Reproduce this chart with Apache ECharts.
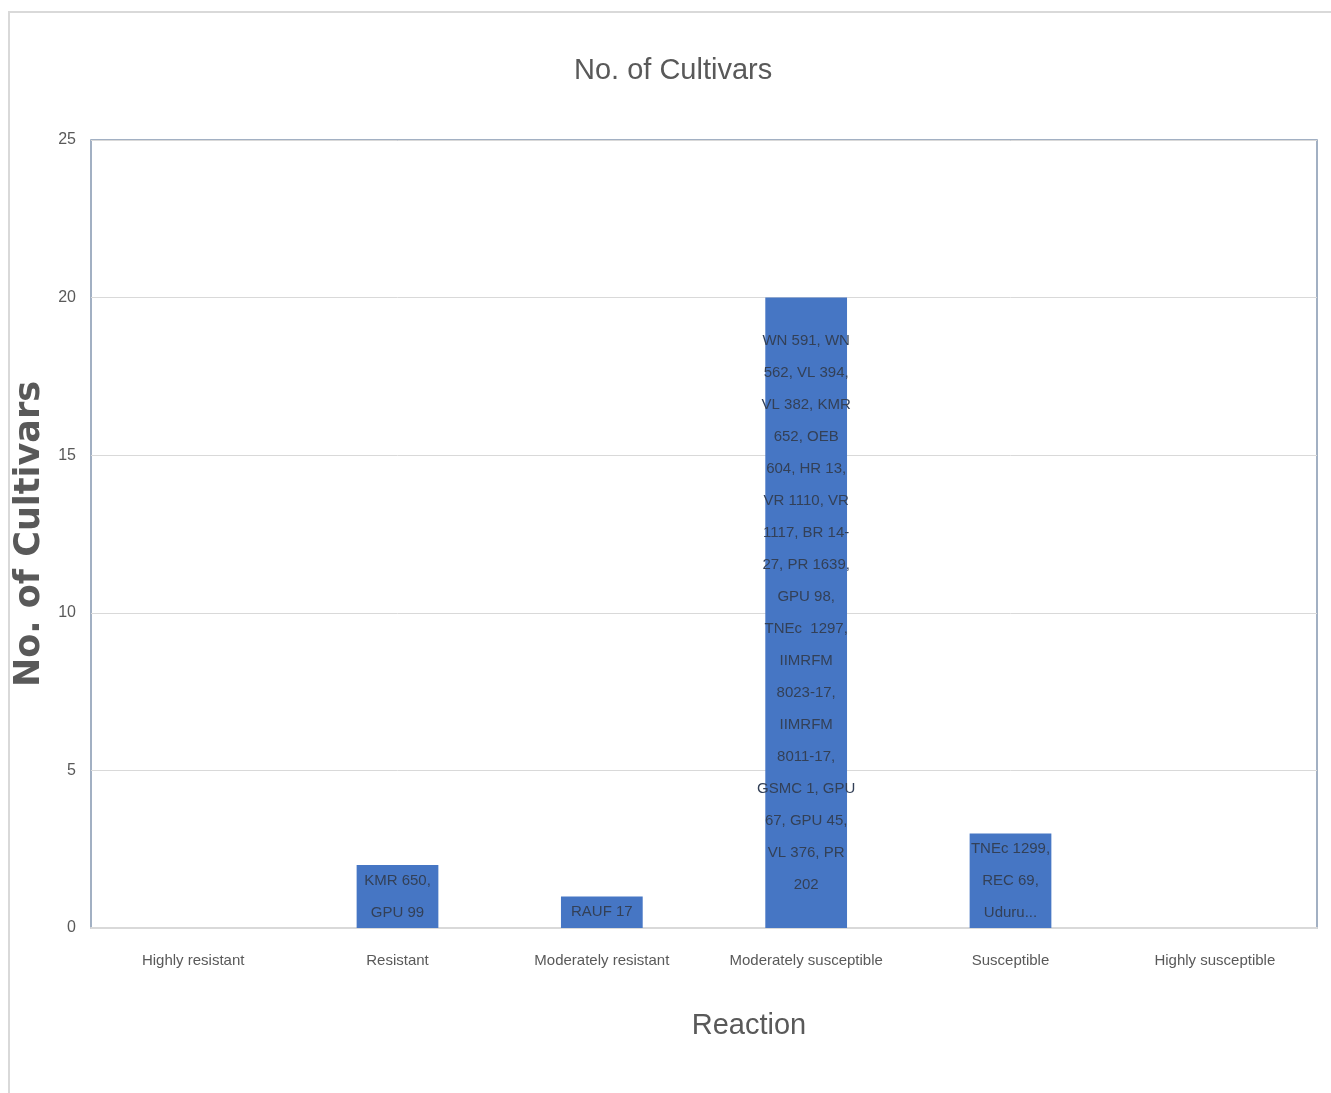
<!DOCTYPE html>
<html>
<head>
<meta charset="utf-8">
<title>No. of Cultivars</title>
<script src="https://cdn.jsdelivr.net/npm/echarts@6/dist/echarts.min.js"></script>
<style>
  html, body { margin: 0; padding: 0; background: #ffffff; }
  #chart { width: 1331px; height: 1093px; }
</style>
</head>
<body>
<div id="chart"></div>
<script>
// Disease reaction classes on the x axis
const reactions = [
  'Highly resistant',
  'Resistant',
  'Moderately resistant',
  'Moderately susceptible',
  'Susceptible',
  'Highly susceptible'
];

// Number of cultivars in each reaction class
const cultivarCounts = [0, 2, 1, 20, 3, 0];

// Cultivar names printed inside each bar
const cultivarNames = [
  '',
  'KMR 650,\nGPU 99',
  'RAUF 17',
  'WN 591, WN\n562, VL 394,\nVL 382, KMR\n652, OEB\n604, HR 13,\nVR 1110, VR\n1117, BR 14-\n27, PR 1639,\nGPU 98,\nTNEc  1297,\nIIMRFM\n8023-17,\nIIMRFM\n8011-17,\nGSMC 1, GPU\n67, GPU 45,\nVL 376, PR\n202',
  'TNEc 1299,\nREC 69,\nUduru...',
  ''
];

// Value axis ticks
const yTicks = { min: 0, max: 25, interval: 5 };

const sans = '"Liberation Sans", Arial, sans-serif';

const chart = echarts.init(document.getElementById('chart'), null, { renderer: 'canvas' });

chart.setOption({
  backgroundColor: '#ffffff',
  animation: false,
  title: {
    text: 'No. of Cultivars',
    left: 569,
    top: 51,
    textStyle: { fontFamily: sans, fontSize: 29, fontWeight: 'normal', color: '#595959' }
  },
  graphic: [
    {
      // outer chart frame
      type: 'rect',
      shape: { x: 9, y: 12, width: 1340, height: 1100 },
      style: { fill: 'none', stroke: '#d9d9d9', lineWidth: 2 },
      silent: true
    }
  ],
  grid: {
    left: 91,
    right: 14,
    top: 140,
    bottom: 165,
    show: true,
    borderColor: '#8497b0',
    borderWidth: 1.5,
    containLabel: false
  },
  xAxis: {
    type: 'category',
    data: reactions,
    name: 'Reaction',
    nameLocation: 'middle',
    nameGap: 83,
    nameTextStyle: { fontFamily: sans, fontSize: 29, color: '#595959', padding: [0, 0, 0, 90] },
    axisLine: { show: true, lineStyle: { color: '#d9d9d9', width: 2 } },
    axisTick: { show: false },
    axisLabel: { interval: 0, fontFamily: sans, fontSize: 15, color: '#595959', margin: 25 }
  },
  yAxis: {
    type: 'value',
    min: yTicks.min,
    max: yTicks.max,
    interval: yTicks.interval,
    name: 'No. of Cultivars',
    nameLocation: 'middle',
    nameGap: 35,
    nameTextStyle: { fontFamily: '"DejaVu Sans", Verdana, sans-serif', fontSize: 35, fontWeight: 600, color: '#595959' },
    axisLine: { show: false },
    axisTick: { show: false },
    axisLabel: { fontFamily: sans, fontSize: 16, color: '#595959', margin: 15 },
    splitLine: { lineStyle: { color: '#d9d9d9', width: 1 } }
  },
  series: [
    {
      type: 'bar',
      data: cultivarCounts,
      barWidth: '40%',
      itemStyle: { color: '#4676c4' },
      label: {
        show: true,
        position: 'inside',
        fontFamily: sans,
        fontSize: 15,
        lineHeight: 32,
        color: '#334057',
        align: 'center',
        formatter: function (p) { return cultivarNames[p.dataIndex]; }
      }
    }
  ]
});
</script>
</body>
</html>
